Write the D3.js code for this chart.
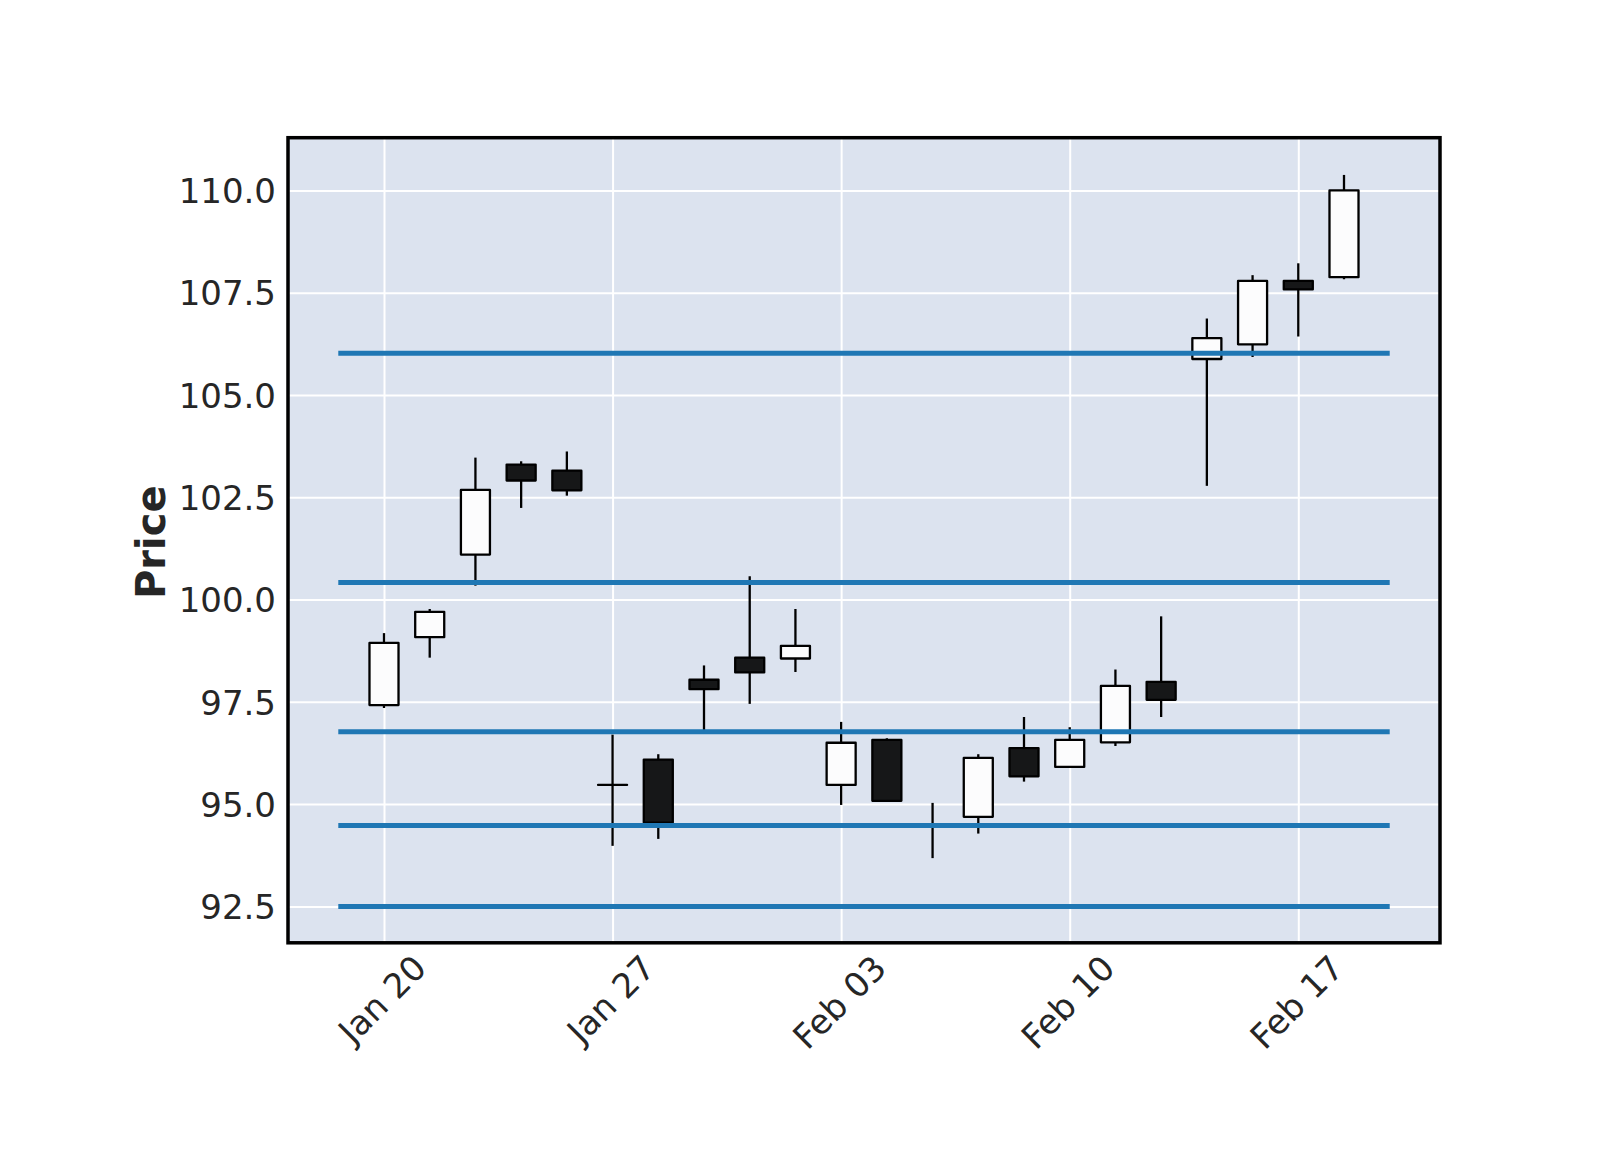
<!DOCTYPE html>
<html><head><meta charset="utf-8">
<script src="https://cdn.jsdelivr.net/npm/d3@7"></script>
<style>body{margin:0;background:#fff}svg{display:block}</style>
</head><body><svg id="c" width="1600" height="1150"></svg>
<script>
// ---- data ----
const dates = ["2020-01-20","2020-01-21","2020-01-22","2020-01-23","2020-01-24",
               "2020-01-27","2020-01-28","2020-01-29","2020-01-30","2020-01-31",
               "2020-02-03","2020-02-04","2020-02-05","2020-02-06","2020-02-07",
               "2020-02-10","2020-02-11","2020-02-12","2020-02-13","2020-02-14",
               "2020-02-17","2020-02-18"];
const opens  = [97.42, 99.08, 101.10, 103.30, 103.15, 95.47, 96.09, 98.04, 98.58, 98.56, 95.47, 96.57, 94.49, 94.69, 96.37, 95.91, 96.51, 97.99, 105.88, 106.24, 107.79, 107.88];
const highs  = [99.18, 99.77, 103.47, 103.38, 103.62, 96.70, 96.22, 98.39, 100.57, 99.77, 97.01, 96.61, 95.03, 96.22, 97.13, 96.88, 98.29, 99.59, 106.87, 107.93, 108.22, 110.38];
const lows   = [97.35, 98.58, 100.34, 102.24, 102.54, 93.98, 94.15, 96.80, 97.45, 98.23, 94.98, 95.06, 93.68, 94.28, 95.55, 95.90, 96.42, 97.13, 102.78, 105.93, 106.43, 107.83];
const closes = [98.94, 99.70, 102.68, 102.91, 102.67, 95.47, 94.55, 97.81, 98.22, 98.87, 96.50, 95.08, 94.47, 96.13, 95.68, 96.57, 97.89, 97.55, 106.39, 107.79, 107.58, 110.00];
const hlineValues = [106.02, 100.42, 96.77, 94.48, 92.5];
const yTickValues = [92.5, 95.0, 97.5, 100.0, 102.5, 105.0, 107.5, 110.0];
const xTickLabels = ["Jan 20","Jan 27","Feb 03","Feb 10","Feb 17"];
const yLabel = "Price";

// ---- layout ----
const svg = d3.select("#c");
const L = 288, R = 1440, T = 137.7, B = 942.8;
const n = dates.length;
const x = d3.scaleLinear().domain([-2.1, n + 1.1]).range([L, R]);
const y = d3.scaleLinear().domain([91.61, 111.29]).range([B, T]);
const fmt = d3.timeFormat("%b %d"), parse = d3.timeParse("%Y-%m-%d");
const xTickIdx = xTickLabels.map(lbl => dates.findIndex(d => fmt(parse(d)) === lbl));
const ink = "#262626";
const font = "DejaVu Sans, sans-serif";

svg.append("rect").attr("x", L).attr("y", T).attr("width", R - L).attr("height", B - T).attr("fill", "#DCE3EF");

// grid
svg.append("g").attr("transform", `translate(${L},0)`)
  .call(d3.axisLeft(y).tickValues(yTickValues).tickSize(-(R - L)).tickFormat(""))
  .call(g => g.select(".domain").remove())
  .call(g => g.selectAll("line").attr("stroke", "#fff").attr("stroke-width", 2));
svg.append("g").attr("transform", `translate(0,${B})`)
  .call(d3.axisBottom(x).tickValues(xTickIdx).tickSize(-(B - T)).tickFormat(""))
  .call(g => g.select(".domain").remove())
  .call(g => g.selectAll("line").attr("stroke", "#fff").attr("stroke-width", 2));

// candles
const idx = d3.range(n);
const bw = 0.635;
const up = i => closes[i] >= opens[i];
const cg = svg.append("g");
cg.selectAll("line.wick").data(idx).join("line").attr("class", "wick")
  .attr("x1", i => x(i)).attr("x2", i => x(i))
  .attr("y1", i => y(highs[i])).attr("y2", i => y(lows[i]))
  .attr("stroke", "#000").attr("stroke-width", 2.3);
cg.selectAll("path.body").data(idx).join("path").attr("class", "body")
  .attr("d", i => {
    const x0 = x(i - bw / 2), x1 = x(i + bw / 2);
    const y0 = y(Math.max(opens[i], closes[i])), y1 = y(Math.min(opens[i], closes[i]));
    return `M${x0},${y0}H${x1}V${y1}H${x0}Z`;
  })
  .attr("fill", i => up(i) ? "#FCFCFD" : "#161718")
  .attr("stroke", "#000").attr("stroke-width", 2.3).attr("stroke-linejoin", "round");

// horizontal lines
svg.append("g").selectAll("line").data(hlineValues).join("line")
  .attr("x1", x(-1)).attr("x2", x(n))
  .attr("y1", d => y(d)).attr("y2", d => y(d))
  .attr("stroke", "#1f77b4").attr("stroke-width", 5);

// frame
svg.append("rect").attr("x", L).attr("y", T).attr("width", R - L).attr("height", B - T)
  .attr("fill", "none").attr("stroke", "#000").attr("stroke-width", 3.5);

// y tick labels
svg.append("g").attr("transform", `translate(${L},0)`)
  .call(d3.axisLeft(y).tickValues(yTickValues).tickSize(0).tickPadding(12).tickFormat(d3.format(".1f")))
  .call(g => g.select(".domain").remove())
  .call(g => g.selectAll("text").attr("font-family", font).attr("font-size", 34).attr("fill", ink).attr("dy", "0.36em"));

// x tick labels (rotated 45)
const fs = 34, pad = 9;
svg.append("g").attr("transform", `translate(0,${B})`)
  .call(d3.axisBottom(x).tickValues(xTickIdx).tickSize(0).tickFormat((d, k) => xTickLabels[k]))
  .call(g => g.select(".domain").remove())
  .call(g => g.selectAll("text")
    .attr("font-family", font).attr("font-size", fs).attr("fill", ink)
    .attr("text-anchor", "middle").attr("x", 0).attr("y", 0).attr("dy", "0.26em")
    .attr("transform", function () {
      const len = this.getComputedTextLength();
      const cy = pad + (len + fs) / (2 * Math.SQRT2);
      return `translate(0,${cy}) rotate(-45)`;
    }));

// y label
svg.append("text").attr("transform", `translate(165,${(T + B) / 2 + 2}) rotate(-90)`)
  .attr("text-anchor", "middle").attr("font-family", font).attr("font-weight", "bold")
  .attr("font-size", 40).attr("fill", ink).text(yLabel);
</script></body></html>
